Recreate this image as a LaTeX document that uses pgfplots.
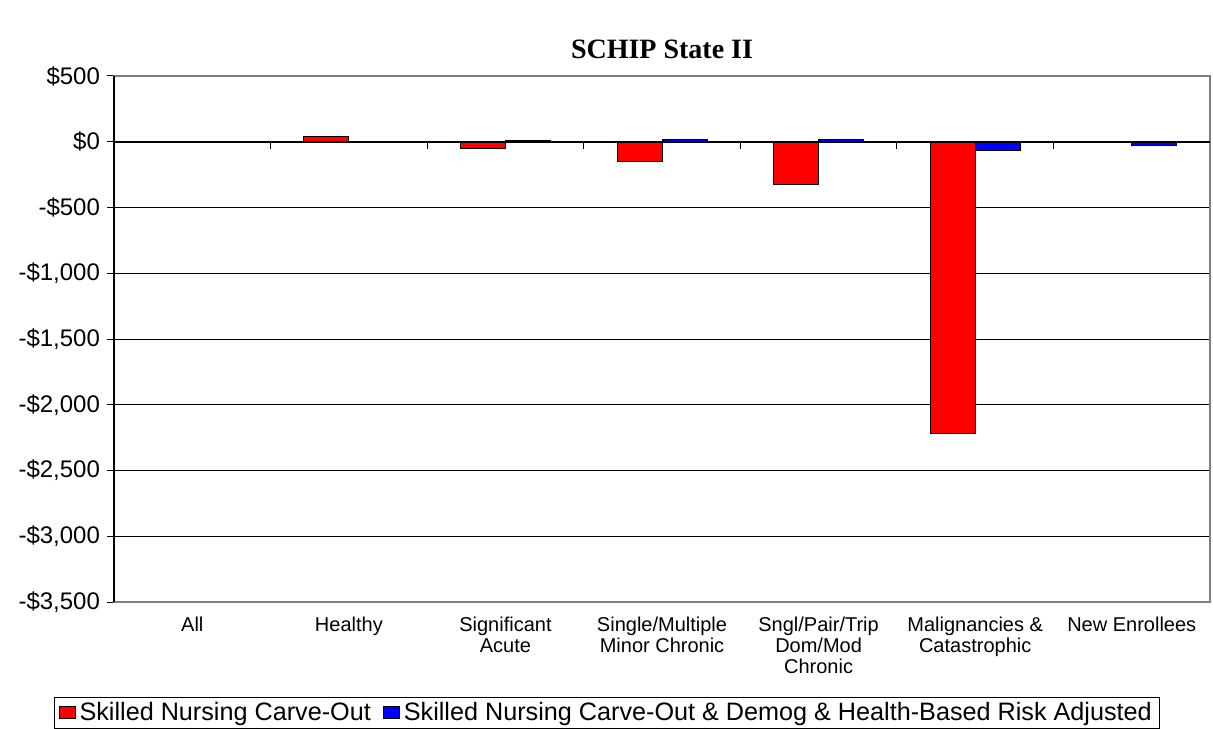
\documentclass[border=0pt]{standalone}
\usepackage{fontspec}
\setmainfont{Liberation Sans}
\newfontfamily\titlefont{Liberation Serif}
\usepackage{pgfplots}
\pgfplotsset{compat=1.18}

\begin{document}
\begin{tikzpicture}
\begin{axis}[
    scale only axis,
    width=548pt, height=263pt,
    clip=false,
    ybar=0pt,
    bar width=22.5pt,
    xmin=-0.5, xmax=6.5,
    ymin=-3500, ymax=500,
    xtick={0,...,6},
    xticklabels={All, Healthy, Significant\\Acute, Single/Multiple\\Minor Chronic,
      Sngl/Pair/Trip\\Dom/Mod\\Chronic, Malignancies \&\\Catastrophic, New Enrollees},
    x tick label style={align=center, font=\fontsize{10}{10.5}\selectfont, yshift=-0.5pt},
    xtick style={draw=none},
    ytick={-3500,-3000,...,500},
    yticklabels={{-\$3,500},{-\$3,000},{-\$2,500},{-\$2,000},{-\$1,500},{-\$1,000},{-\$500},{\$0},{\$500}},
    y tick label style={font=\fontsize{12}{14}\selectfont},
    ytick pos=left,
    tick align=outside,
    major tick length=3.5pt,
    ytick style={black, line width=0.5pt},
    ymajorgrids=true,
    grid style={black, line width=0.5pt},
    axis line style={draw=gray, line width=0.8pt},
    title={\titlefont\bfseries SCHIP State II},
    title style={font=\fontsize{14}{16}\selectfont, yshift=-1pt},
    legend columns=2,
    legend style={at={(rel axis cs:0.45,-0.18)}, anchor=north, draw=black,
      line width=0.5pt, font=\fontsize{12.6}{14}\selectfont,
      inner xsep=2pt, inner ysep=0.5pt,
      /tikz/every even column/.append style={column sep=4pt}},
    legend image code/.code={\draw[#1, draw=black, line width=0.5pt] (0pt,-3pt) rectangle (8pt,3pt);},
]
\addplot[fill=red, draw=black, line width=0.5pt] coordinates
  {(0,3) (1,38) (2,-55) (3,-150) (4,-327) (5,-2215)};
\addplot[fill=blue, draw=black, line width=0.5pt] coordinates
  {(0,-8) (1,4) (2,13) (3,20) (4,15) (5,-63) (6,-25)};
\legend{Skilled Nursing Carve-Out, Skilled Nursing Carve-Out \& Demog \& Health-Based Risk Adjusted}
% zero line with category ticks, black left axis
\draw[black, line width=0.8pt] (axis cs:-0.5,0) -- (axis cs:6.5,0);
\pgfplotsinvokeforeach{0.5,1.5,2.5,3.5,4.5,5.5}{\draw[black, line width=0.5pt] (axis cs:#1,0) -- ([yshift=-3.5pt]axis cs:#1,0);}
\draw[black, line width=0.6pt] (rel axis cs:0,0) -- (rel axis cs:0,1);
\path (rel axis cs:-0.104,-0.2395) rectangle (rel axis cs:1.0027,1.1445);
\end{axis}
\end{tikzpicture}
\end{document}
